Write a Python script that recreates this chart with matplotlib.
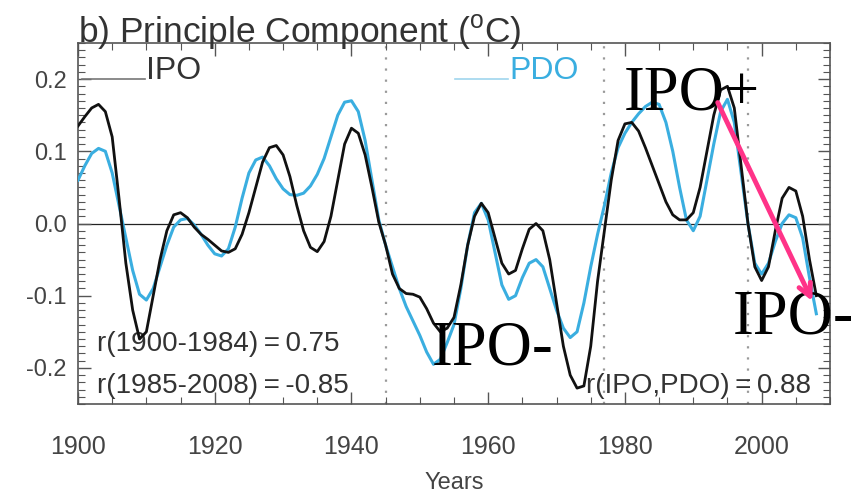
import matplotlib
matplotlib.use('Agg')
import matplotlib.pyplot as plt
from matplotlib.lines import Line2D
from matplotlib.ticker import MultipleLocator
import numpy as np

plt.rcParams['font.family'] = ['Liberation Sans', 'DejaVu Sans']
plt.rcParams['mathtext.fontset'] = 'custom'
plt.rcParams['mathtext.rm'] = 'Liberation Sans'

# valores (1900-2008)
years = np.arange(1900, 2009)
ipo = [0.135, 0.148, 0.160, 0.165, 0.155, 0.120, 0.035, -0.055, -0.120, -0.160,
       -0.150, -0.100, -0.050, -0.010, 0.012, 0.015, 0.008, -0.005, -0.015, -0.022,
       -0.030, -0.038, -0.040, -0.035, -0.015, 0.015, 0.050, 0.085, 0.105, 0.108,
       0.095, 0.065, 0.025, -0.010, -0.033, -0.039, -0.025, 0.010, 0.060, 0.110,
       0.132, 0.125, 0.095, 0.050, 0.002, -0.030, -0.070, -0.090, -0.097, -0.098,
       -0.102, -0.118, -0.138, -0.150, -0.145, -0.130, -0.085, -0.030, 0.010, 0.028,
       0.015, -0.020, -0.055, -0.070, -0.065, -0.035, -0.008, 0.000, -0.010, -0.050,
       -0.110, -0.170, -0.210, -0.228, -0.225, -0.170, -0.080, -0.010, 0.060, 0.115,
       0.138, 0.140, 0.128, 0.105, 0.080, 0.055, 0.030, 0.012, 0.005, 0.005,
       0.015, 0.050, 0.100, 0.150, 0.185, 0.190, 0.160, 0.080, 0.000, -0.060,
       -0.079, -0.060, -0.010, 0.035, 0.050, 0.045, 0.010, -0.050, -0.100]
pdo = [0.060, 0.080, 0.097, 0.104, 0.100, 0.070, 0.025, -0.020, -0.065, -0.098,
       -0.106, -0.090, -0.060, -0.030, -0.005, 0.005, 0.007, -0.002, -0.015, -0.030,
       -0.042, -0.045, -0.035, -0.005, 0.035, 0.070, 0.088, 0.092, 0.080, 0.062,
       0.048, 0.040, 0.039, 0.042, 0.052, 0.068, 0.090, 0.120, 0.150, 0.168,
       0.170, 0.155, 0.115, 0.060, 0.005, -0.030, -0.060, -0.090, -0.115, -0.135,
       -0.155, -0.178, -0.195, -0.188, -0.165, -0.140, -0.090, -0.030, 0.015, 0.028,
       0.005, -0.040, -0.085, -0.105, -0.100, -0.075, -0.055, -0.050, -0.060, -0.090,
       -0.120, -0.145, -0.158, -0.150, -0.110, -0.060, -0.015, 0.025, 0.070, 0.105,
       0.125, 0.140, 0.152, 0.162, 0.168, 0.165, 0.140, 0.100, 0.050, 0.005,
       -0.010, 0.010, 0.060, 0.110, 0.155, 0.172, 0.140, 0.070, 0.000, -0.055,
       -0.070, -0.055, -0.025, 0.000, 0.012, 0.008, -0.020, -0.075, -0.125]
breaks = [1945, 1977, 1998]
xticks = [1900, 1920, 1940, 1960, 1980, 2000]
yticks = [-0.2, -0.1, 0.0, 0.1, 0.2]

W, H = 851, 499
fig = plt.figure(figsize=(W / 100, H / 100), dpi=100)
ax = fig.add_axes([78 / W, 1 - 404 / H, (830 - 78) / W, (404 - 43) / H])

gray = '#444444'
blue = '#3aaee0'

ax.axhline(0, color='#222222', lw=0.9, zorder=1)
for b in breaks:
    ax.axvline(b, color='#9a9a9a', lw=1.6, ls=(0, (1, 4)), zorder=1)

ax.plot(years, pdo, color=blue, lw=2.2, zorder=3)
ax.plot(years, ipo, color='#111111', lw=2.0, zorder=4)

ax.set_xlim(1900, 2010)
ax.set_ylim(-0.25, 0.25)
ax.set_xticks(xticks)
ax.set_yticks(yticks)
ax.set_yticklabels(['%.1f' % v for v in yticks])
ax.xaxis.set_minor_locator(MultipleLocator(5))
ax.yaxis.set_minor_locator(MultipleLocator(0.01))
ax.tick_params(which='both', direction='in', top=True, right=True, color='#555555',
               labelsize=17, labelcolor=gray)
ax.tick_params(which='major', length=9, width=1)
ax.tick_params(which='minor', length=5, width=0.8)
ax.tick_params(axis='x', pad=22, labelsize=18)
ax.tick_params(axis='y', pad=8)
for s in ax.spines.values():
    s.set_color('#555555')
    s.set_linewidth(1.2)
ax.set_xlabel('Years', fontsize=17, color=gray, labelpad=10)

# titulo y leyenda
fig.text(78 / W, 1 - 42 / H, 'b) Principle Component ($^{\\rm o}$C)', fontsize=25.5,
         color='#333333', va='baseline', ha='left')
fig.add_artist(Line2D([82 / W, 145 / W], [1 - 79 / H, 1 - 79 / H], color='#777777', lw=1.2))
fig.text(146 / W, 1 - 79 / H, 'IPO', fontsize=23, color='#333333', va='baseline')
fig.add_artist(Line2D([455 / W, 508 / W], [1 - 79 / H, 1 - 79 / H], color='#9fd6ee', lw=1.2))
fig.text(509 / W, 1 - 79 / H, 'PDO', fontsize=23, color=blue, va='baseline')

# correlaciones
eq = '\u2009=\u2009'
ax.text(0.025, 0.165, 'r(1900-1984)' + eq + '0.75', transform=ax.transAxes, fontsize=20,
        color='#333333', va='center')
ax.text(0.025, 0.05, 'r(1985-2008)' + eq + '-0.85', transform=ax.transAxes, fontsize=20,
        color='#333333', va='center')
ax.text(0.975, 0.05, 'r(IPO,PDO)' + eq + '0.88', transform=ax.transAxes, fontsize=20,
        color='#333333', va='center', ha='right')

# anotaciones
serif = ['Liberation Serif', 'DejaVu Serif']
ax.text(1979.8, 0.158, 'IPO+', fontsize=45, family=serif, color='black', zorder=6)
ax.text(1951.7, -0.195, 'IPO-', fontsize=45, family=serif, color='black', zorder=6)
ax.text(1995.8, -0.152, 'IPO-', fontsize=45, family=serif, color='black', zorder=6,
        clip_on=False)
ax.annotate('', xy=(2007.6, -0.111), xytext=(1993.4, 0.171),
            arrowprops=dict(arrowstyle='->,head_length=0.9,head_width=0.45',
                            color='#ff3388', lw=3.5), zorder=7)

fig.savefig('out.png', dpi=100)
